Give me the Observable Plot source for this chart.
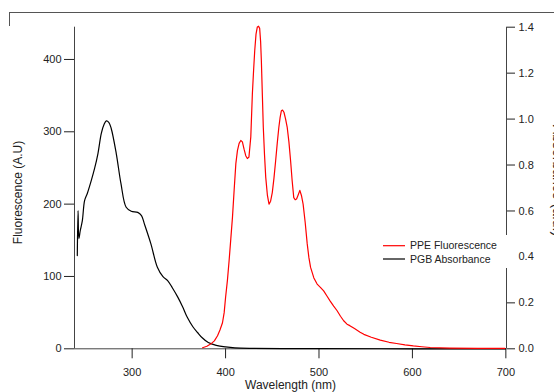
<!DOCTYPE html>
<html><head><meta charset="utf-8">
<script src="https://cdn.jsdelivr.net/npm/d3@7"></script>
<script src="https://cdn.jsdelivr.net/npm/@observablehq/plot@0.6"></script>
<style>
body{margin:0;background:#fff;}
#wrap{position:relative;width:554px;height:392px;overflow:hidden;font-family:"Liberation Sans",Arial,sans-serif;}
#frame{position:absolute;left:9px;top:12px;width:560px;height:13px;border-top:1px solid #555;border-left:1px solid #555;}
#legend{position:absolute;left:380px;top:235px;width:136px;height:33px;background:#fff;}
#legend svg{display:block;}
</style></head><body><div id="wrap"><div id="chart"></div><div id="frame"></div><div id="legend"></div></div>
<script>
// PGB absorbance (right axis units)
const absWl  = [241.3, 242.1, 243.0, 244.5, 246.7, 249.1, 252, 256.3, 259.8, 263.4, 267, 270, 272.3, 275, 277.6, 283, 288, 293.6, 299, 306, 310, 313, 320, 327, 333, 338, 343, 349, 354, 359, 365, 370, 375, 381.5, 390, 400, 410, 430, 460, 500, 600, 700];
const absVal = [0.406, 0.602, 0.480, 0.515, 0.558, 0.645, 0.676, 0.733, 0.785, 0.850, 0.938, 0.977, 0.992, 0.986, 0.959, 0.850, 0.720, 0.616, 0.599, 0.594, 0.580, 0.545, 0.458, 0.355, 0.314, 0.297, 0.266, 0.224, 0.183, 0.137, 0.096, 0.071, 0.048, 0.027, 0.015, 0.008, 0.004, 0.002, 0.001, 0.0005, 0.0, 0.0];
// PPE fluorescence (left axis units)
const flWl  = [375.4, 380, 384, 388, 391.4, 394, 396.7, 398.5, 400, 402, 403.8, 405.6, 407.4, 409.2, 411, 412.7, 414.5, 416.3, 418, 419.8, 421.6, 423.3, 425, 427, 428.7, 430, 431.2, 432.6, 434, 435.3, 436.5, 437.5, 438.3, 439.4, 440.4, 441.7, 443, 444.8, 446.5, 448.2, 450, 451.8, 453.6, 455.3, 457, 458.4, 459.7, 461, 462.5, 464.2, 466, 467.8, 469.6, 471.3, 473, 474.5, 476, 477.8, 479.5, 481.2, 483, 485.2, 487.4, 489.2, 491, 494.5, 498, 501.5, 505, 508.5, 512, 515.7, 519.4, 523, 526.4, 530, 533, 538, 544, 548, 556, 565.6, 575, 583, 592, 601, 610, 619, 640, 670, 699];
const flVal = [1.5, 3.5, 6.5, 11, 18, 26, 36, 50, 71, 95, 122, 152, 182, 220, 256, 274, 284, 288, 286, 276, 267, 263, 265, 293, 353, 385, 412, 435, 445, 446, 443, 425, 399, 350, 306, 268, 237, 212, 200, 204, 216, 236, 260, 284, 306, 320, 329, 330, 327, 318, 306, 286, 260, 232, 209, 206, 207, 213, 219, 212, 200, 175, 145, 126, 112.5, 98, 89.5, 85, 80, 73, 66, 59, 52.6, 45, 38.8, 34, 32, 28, 23, 20, 16, 12, 9, 7.3, 5.5, 4, 2.8, 1.8, 1, 0.6, 0.5];

const xTicks = [300, 400, 500, 600, 700];
const leftTicks = [0, 100, 200, 300, 400];
const rightTicks = [0.0, 0.2, 0.4, 0.6, 0.8, 1.0, 1.2, 1.4];
const seriesNames = ["PPE Fluorescence", "PGB Absorbance"];
const seriesColors = ["#ff0000", "#000000"];
const xLabel = "Wavelength (nm)";
const yLeftLabel = "Fluorescence (A.U)";
const yRightLabel = "Absorbance (a.u.)";
const xDomain = [238.3, 700.7];
const yLeftMax = 444.6;
const yRightMax = 1.4;
const K = yLeftMax / yRightMax;

const fl = flWl.map((w, i) => ({w, v: flVal[i]}));
const ab = absWl.map((w, i) => ({w, v: absVal[i]}));

const chart = Plot.plot({
  width: 554, height: 392,
  marginLeft: 74, marginRight: 48, marginTop: 26.7, marginBottom: 43.7,
  style: {fontFamily: "Liberation Sans, Arial, sans-serif", fontSize: "11px", color: "#222", background: "white"},
  x: {domain: xDomain},
  y: {domain: [0, yLeftMax]},
  marks: [
    Plot.ruleX([xDomain[0], xDomain[1]], {stroke: "#444", strokeWidth: 1}),
    Plot.ruleY([0], {stroke: "#444", strokeWidth: 1}),
    Plot.axisX(xTicks, {tickSize: 10, tickPadding: 9, label: null}),
    Plot.axisY(leftTicks, {anchor: "left", tickSize: 10, tickPadding: 3, label: null}),
    Plot.axisY(rightTicks.map(v => v * K), {anchor: "right", tickSize: 8, tickPadding: 4, label: null, tickFormat: d => (d / K).toFixed(1)}),
    Plot.line(ab, {x: "w", y: d => d.v * K, stroke: seriesColors[1], strokeWidth: 1.2, curve: "catmull-rom"}),
    Plot.line(fl, {x: "w", y: "v", stroke: seriesColors[0], strokeWidth: 1.2}),
    Plot.text([xLabel], {frameAnchor: "bottom", dy: 36, lineAnchor: "middle", textAnchor: "middle", fontSize: 12, text: d => d}),
    Plot.text([yLeftLabel], {frameAnchor: "left", dx: -56, dy: 4.5, rotate: -90, textAnchor: "middle", lineAnchor: "middle", fontSize: 12, text: d => d}),
    Plot.text([yRightLabel], {frameAnchor: "right", dx: 46, dy: -7.5, rotate: 90, textAnchor: "middle", lineAnchor: "bottom", fontSize: 14, text: d => d})
  ]
});
document.getElementById("chart").appendChild(chart);

// legend
const ns = "http://www.w3.org/2000/svg";
const lsvg = document.createElementNS(ns, "svg");
lsvg.setAttribute("width", 136); lsvg.setAttribute("height", 33);
seriesNames.forEach((name, i) => {
  const y = 10.7 + i * 13.3;
  const ln = document.createElementNS(ns, "line");
  ln.setAttribute("x1", 3); ln.setAttribute("x2", 25);
  ln.setAttribute("y1", y); ln.setAttribute("y2", y);
  ln.setAttribute("stroke", seriesColors[i]); ln.setAttribute("stroke-width", 1.2);
  lsvg.appendChild(ln);
  const t = document.createElementNS(ns, "text");
  t.setAttribute("x", 30); t.setAttribute("y", y + 3.6);
  t.setAttribute("font-size", "10.5px");
  t.setAttribute("font-family", "Liberation Sans, Arial, sans-serif");
  t.setAttribute("fill", "#222");
  t.textContent = name;
  lsvg.appendChild(t);
});
document.getElementById("legend").appendChild(lsvg);
</script>
</body></html>
